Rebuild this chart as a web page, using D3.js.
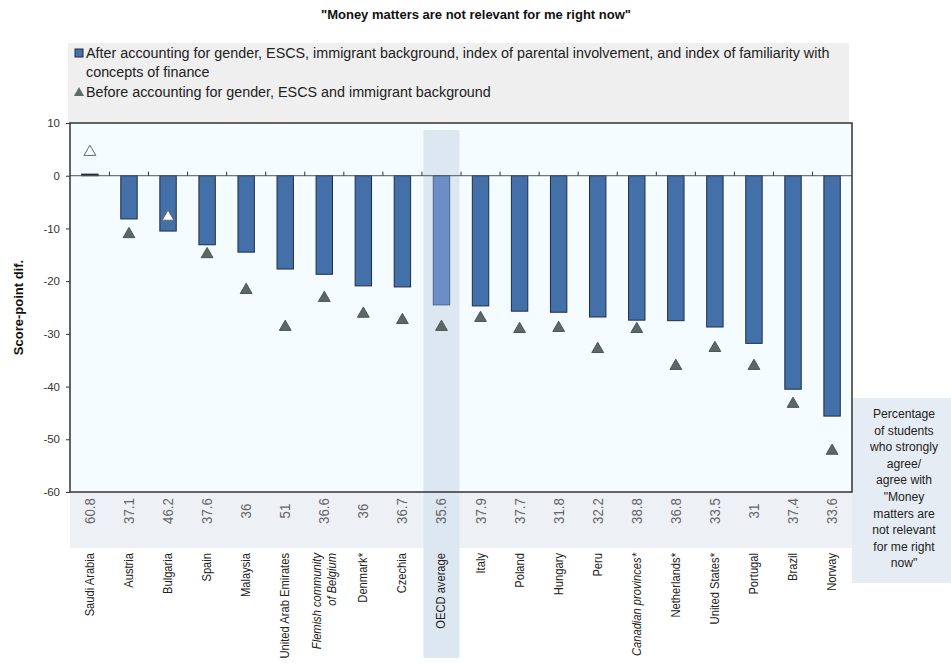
<!DOCTYPE html>
<html>
<head>
  <meta charset="utf-8">
  <title>Money matters are not relevant for me right now</title>
  <style>
    body { margin: 0; background: #fff; }
    text { font-family: "Liberation Sans", Arial, sans-serif; }
    .title { font-size: 13px; font-weight: bold; text-anchor: middle; fill: #111; }
    .legend-text { font-size: 14.5px; fill: #222; }
    .tick-label { font-size: 11.5px; fill: #333; }
    .cat-label { font-size: 13px; fill: #222; }
    .pct-label { font-size: 14px; fill: #666; }
    .axis-title { font-size: 13px; font-weight: bold; fill: #111; }
    .side-note { font-size: 13.5px; fill: #222; text-anchor: middle; }
  </style>
</head>
<body>
  <svg id="chart"></svg>

  <script src="https://d3js.org/d3.v7.min.js"></script>
  <script>
    // Data
    const countries = ["Saudi Arabia", "Austria", "Bulgaria", "Spain", "Malaysia", "United Arab Emirates",
      "Flemish community|of Belgium", "Denmark*", "Czechia", "OECD average", "Italy", "Poland", "Hungary",
      "Peru", "Canadian provinces*", "Netherlands*", "United States*", "Portugal", "Brazil", "Norway"];
    const italicCountries = ["Flemish community|of Belgium", "Canadian provinces*"];
    const afterValues = [0.3, -8.2, -10.5, -13.1, -14.5, -17.7, -18.7, -20.9, -21.1, -24.5, -24.7, -25.7,
      -25.9, -26.8, -27.4, -27.5, -28.7, -31.8, -40.5, -45.6];
    const beforeValues = [4.5, -11.1, -7.8, -14.9, -21.7, -28.7, -23.2, -26.2, -27.4, -28.7, -27.0, -29.1,
      -28.9, -32.9, -29.1, -36.1, -32.7, -36.1, -43.3, -52.2];
    const beforeSignificant = [false, true, false, true, true, true, true, true, true, true, true, true,
      true, true, true, true, true, true, true, true];
    const percentAgree = ["60.8", "37.1", "46.2", "37.6", "36", "51", "36.6", "36", "36.7", "35.6", "37.9",
      "37.7", "31.8", "32.2", "38.8", "36.8", "33.5", "31", "37.4", "33.6"];
    const yTicks = [10, 0, -10, -20, -30, -40, -50, -60];
    const sideNote = ["Percentage", "of students", "who strongly", "agree/", "agree with", "\"Money",
      "matters are", "not relevant", "for me right", "now\""];

    const width = 951, height = 666;
    const plot = { left: 70, right: 852, top: 123, bottom: 492 };
    const narrow = 0.86; // horizontal squeeze to mimic a condensed face

    const svg = d3.select("#chart").attr("width", width).attr("height", height);

    const x = d3.scaleBand()
      .domain(countries)
      .range([plot.left, plot.right])
      .paddingInner(0.58)
      .paddingOuter(0.3);
    const step = x.step();
    const y = d3.scaleLinear().domain([-60, 10]).range([plot.bottom, plot.top]);

    // Title
    svg.append("text").attr("class", "title")
      .attr("x", 476).attr("y", 19)
      .text("\"Money matters are not relevant for me right now\"");

    // Legend panel
    svg.append("rect").attr("x", 68).attr("y", 43).attr("width", 781).attr("height", plot.top - 43)
      .attr("fill", "#efefef");
    svg.append("rect").attr("x", 75).attr("y", 49).attr("width", 8).attr("height", 8)
      .attr("fill", "#4a6fa8").attr("stroke", "#1d2c48").attr("stroke-width", 1);
    svg.append("path").attr("d", d3.symbol(d3.symbolTriangle, 45)())
      .attr("transform", "translate(79,93)").attr("fill", "#5f6b6b");
    const legendLines = [
      { t: "After accounting for gender, ESCS, immigrant background, index of parental involvement, and index of familiarity with", y: 58 },
      { t: "concepts of finance", y: 77 },
      { t: "Before accounting for gender, ESCS and immigrant background", y: 97 }
    ];
    svg.append("g").selectAll("text")
      .data(legendLines)
      .enter().append("text")
      .attr("class", "legend-text")
      .attr("transform", d => `translate(86,${d.y}) scale(0.99,1)`)
      .text(d => d.t);

    // Plot background
    svg.append("rect").attr("x", plot.left).attr("y", plot.top)
      .attr("width", plot.right - plot.left).attr("height", plot.bottom - plot.top)
      .attr("fill", "#f4fcff");

    // Percentage row background
    svg.append("rect").attr("x", plot.left).attr("y", plot.bottom)
      .attr("width", plot.right - plot.left).attr("height", 56)
      .attr("fill", "#edf1f6");

    // OECD highlight column
    const oecd = "OECD average";
    svg.append("rect")
      .attr("x", x(oecd) + x.bandwidth() / 2 - 18).attr("y", 130)
      .attr("width", 36).attr("height", 528)
      .attr("fill", "#dde7f2");

    // Side note box
    svg.append("rect").attr("x", 852).attr("y", 398).attr("width", 99).attr("height", 185)
      .attr("fill", "#e6ecf3");
    svg.append("g").selectAll("text")
      .data(sideNote)
      .enter().append("text")
      .attr("class", "side-note")
      .attr("transform", (d, i) => `translate(904,${418 + i * 16.6}) scale(0.9,1)`)
      .text(d => d);

    // Bars
    svg.append("g").selectAll("rect")
      .data(countries)
      .enter().append("rect")
      .attr("x", d => x(d))
      .attr("width", x.bandwidth())
      .attr("y", (d, i) => Math.min(y(afterValues[i]), y(0)))
      .attr("height", (d, i) => Math.max(1.5, Math.abs(y(afterValues[i]) - y(0))))
      .attr("fill", (d, i) => i === 0 ? "#111" : (d === oecd ? "#6b8fc4" : "#4470aa"))
      .attr("stroke", d => d === oecd ? "#4a6590" : "#1f2d45")
      .attr("stroke-width", 1);

    // Zero line with category ticks
    svg.append("line")
      .attr("x1", plot.left).attr("x2", plot.right)
      .attr("y1", y(0)).attr("y2", y(0))
      .attr("stroke", "#555").attr("stroke-width", 1);
    svg.append("g").selectAll("line")
      .data(countries.slice(1))
      .enter().append("line")
      .attr("x1", d => x(d) - (step - x.bandwidth()) / 2)
      .attr("x2", d => x(d) - (step - x.bandwidth()) / 2)
      .attr("y1", y(0)).attr("y2", y(0) - 4)
      .attr("stroke", "#333");

    // Triangles
    svg.append("g").selectAll("path")
      .data(countries)
      .enter().append("path")
      .attr("d", d3.symbol(d3.symbolTriangle, 60)())
      .attr("transform", (d, i) => `translate(${x(d) + x.bandwidth() / 2},${y(beforeValues[i])})`)
      .attr("fill", (d, i) => beforeSignificant[i] ? "#5c6868" : "#fff")
      .attr("stroke", (d, i) => beforeSignificant[i] ? "#4a5656" : "#5c6868")
      .attr("stroke-width", 1);

    // Plot frame
    svg.append("rect").attr("x", plot.left).attr("y", plot.top)
      .attr("width", plot.right - plot.left).attr("height", plot.bottom - plot.top)
      .attr("fill", "none").attr("stroke", "#333").attr("stroke-width", 1.5);

    // Y axis
    const yAxis = svg.append("g")
      .attr("transform", `translate(${plot.left},0)`)
      .call(d3.axisLeft(y).tickValues(yTicks).tickFormat(d => String(d)).tickSize(4).tickPadding(6));
    yAxis.select(".domain").remove();
    yAxis.selectAll("line").attr("stroke", "#333");
    yAxis.selectAll("text").attr("class", "tick-label");

    svg.append("text").attr("class", "axis-title")
      .attr("transform", `translate(23,${(plot.top + plot.bottom) / 2}) rotate(-90)`)
      .attr("text-anchor", "middle")
      .text("Score-point dif.");

    // Percentage row
    svg.append("g").selectAll("text")
      .data(countries)
      .enter().append("text")
      .attr("class", "pct-label")
      .attr("text-anchor", "middle")
      .attr("transform", d => `translate(${x(d) + x.bandwidth() / 2 + 5},511) rotate(-90) scale(0.95,1)`)
      .text((d, i) => percentAgree[i]);

    // Category labels
    const labels = svg.append("g").selectAll("text")
      .data(countries)
      .enter().append("text")
      .attr("class", "cat-label")
      .attr("text-anchor", "end")
      .attr("font-style", d => italicCountries.includes(d) ? "italic" : "normal")
      .attr("transform", d => {
        const lines = d.split("|").length;
        return `translate(${x(d) + x.bandwidth() / 2 + 4 - (lines - 1) * 7},553) rotate(-90) scale(${narrow},1)`;
      });
    labels.each(function(d) {
      const parts = d.split("|");
      d3.select(this).selectAll("tspan")
        .data(parts)
        .enter().append("tspan")
        .attr("x", 0)
        .attr("dy", (p, i) => i === 0 ? 0 : "1.15em")
        .text(p => p);
    });
  </script>
</body>
</html>
